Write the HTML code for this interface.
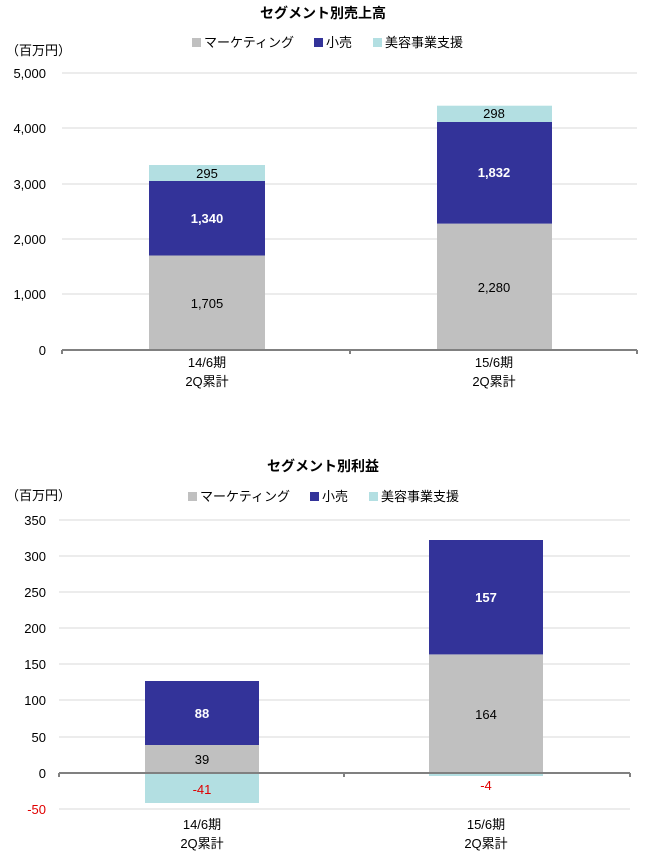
<!DOCTYPE html>
<html><head><meta charset="utf-8"><style>
html,body{margin:0;padding:0;background:#fff;}
svg{display:block;}
text{font-family:"Liberation Sans","Noto Sans CJK JP",sans-serif;font-size:13px;fill:#000;}
.t{font-weight:bold;font-size:14px;}
.g{stroke:#d9d9d9;stroke-width:1;}
.ax{stroke:#808080;stroke-width:2;}
</style></head><body>
<svg width="645" height="854" viewBox="0 0 645 854">
<!-- Chart 1 -->
<text class="t" x="323" y="18" text-anchor="middle">セグメント別売上高</text>
<rect x="192" y="38" width="9" height="9" fill="#c0c0c0"/><text x="204" y="47">マーケティング</text>
<rect x="314" y="38" width="9" height="9" fill="#333399"/><text x="326" y="47">小売</text>
<rect x="373" y="38" width="9" height="9" fill="#b3dfe2"/><text x="385" y="47">美容事業支援</text>
<text x="6" y="55">（百万円）</text>
<g text-anchor="end">
<text x="46" y="78">5,000</text><text x="46" y="133">4,000</text><text x="46" y="189">3,000</text>
<text x="46" y="244">2,000</text><text x="46" y="299">1,000</text><text x="46" y="355">0</text>
</g>
<line class="g" x1="62" y1="73" x2="637" y2="73"/><line class="g" x1="62" y1="128" x2="637" y2="128"/>
<line class="g" x1="62" y1="184" x2="637" y2="184"/><line class="g" x1="62" y1="239" x2="637" y2="239"/>
<line class="g" x1="62" y1="294" x2="637" y2="294"/>
<rect x="149" y="255.5" width="116" height="94.5" fill="#c0c0c0"/>
<rect x="149" y="181" width="116" height="74.5" fill="#333399"/>
<rect x="149" y="165" width="116" height="16" fill="#b3dfe2"/>
<rect x="437" y="223.6" width="115" height="126.4" fill="#c0c0c0"/>
<rect x="437" y="122" width="115" height="101.6" fill="#333399"/>
<rect x="437" y="105.7" width="115" height="16.3" fill="#b3dfe2"/>
<line class="ax" x1="62" y1="350" x2="637" y2="350"/>
<line class="ax" x1="62" y1="350" x2="62" y2="354"/><line class="ax" x1="350" y1="350" x2="350" y2="354"/><line class="ax" x1="637" y1="350" x2="637" y2="354"/>
<g text-anchor="middle">
<text x="207" y="308">1,705</text><text x="207" y="223" style="fill:#fff;font-weight:bold">1,340</text><text x="207" y="178">295</text>
<text x="494" y="292">2,280</text><text x="494" y="177" style="fill:#fff;font-weight:bold">1,832</text><text x="494" y="118">298</text>
<text x="207" y="367">14/6期</text><text x="207" y="386">2Q累計</text>
<text x="494" y="367">15/6期</text><text x="494" y="386">2Q累計</text>
</g>
<!-- Chart 2 -->
<text class="t" x="323" y="471" text-anchor="middle">セグメント別利益</text>
<rect x="188" y="492" width="9" height="9" fill="#c0c0c0"/><text x="200" y="501">マーケティング</text>
<rect x="310" y="492" width="9" height="9" fill="#333399"/><text x="322" y="501">小売</text>
<rect x="369" y="492" width="9" height="9" fill="#b3dfe2"/><text x="381" y="501">美容事業支援</text>
<text x="6" y="500">（百万円）</text>
<g text-anchor="end">
<text x="46" y="525">350</text><text x="46" y="561">300</text><text x="46" y="597">250</text>
<text x="46" y="633">200</text><text x="46" y="669">150</text><text x="46" y="705">100</text>
<text x="46" y="742">50</text><text x="46" y="778">0</text><text x="46" y="814" style="fill:#e00000">-50</text>
</g>
<line class="g" x1="59" y1="520" x2="630" y2="520"/><line class="g" x1="59" y1="556" x2="630" y2="556"/>
<line class="g" x1="59" y1="592" x2="630" y2="592"/><line class="g" x1="59" y1="628" x2="630" y2="628"/>
<line class="g" x1="59" y1="664" x2="630" y2="664"/><line class="g" x1="59" y1="700" x2="630" y2="700"/>
<line class="g" x1="59" y1="737" x2="630" y2="737"/><line class="g" x1="59" y1="809" x2="630" y2="809"/>
<rect x="145" y="745" width="114" height="28" fill="#c0c0c0"/>
<rect x="145" y="681" width="114" height="64" fill="#333399"/>
<rect x="145" y="773" width="114" height="30" fill="#b3dfe2"/>
<rect x="429" y="654.4" width="114" height="118.6" fill="#c0c0c0"/>
<rect x="429" y="540" width="114" height="114.4" fill="#333399"/>
<rect x="429" y="773" width="114" height="3" fill="#b3dfe2"/>
<line class="ax" x1="59" y1="773" x2="630" y2="773"/>
<line class="ax" x1="59" y1="773" x2="59" y2="777"/><line class="ax" x1="344" y1="773" x2="344" y2="777"/><line class="ax" x1="630" y1="773" x2="630" y2="777"/>
<g text-anchor="middle">
<text x="202" y="764">39</text><text x="202" y="718" style="fill:#fff;font-weight:bold">88</text><text x="202" y="794" style="fill:#e00000">-41</text>
<text x="486" y="719">164</text><text x="486" y="602" style="fill:#fff;font-weight:bold">157</text><text x="486" y="790" style="fill:#e00000">-4</text>
<text x="202" y="829">14/6期</text><text x="202" y="848">2Q累計</text>
<text x="486" y="829">15/6期</text><text x="486" y="848">2Q累計</text>
</g>
</svg>
</body></html>
